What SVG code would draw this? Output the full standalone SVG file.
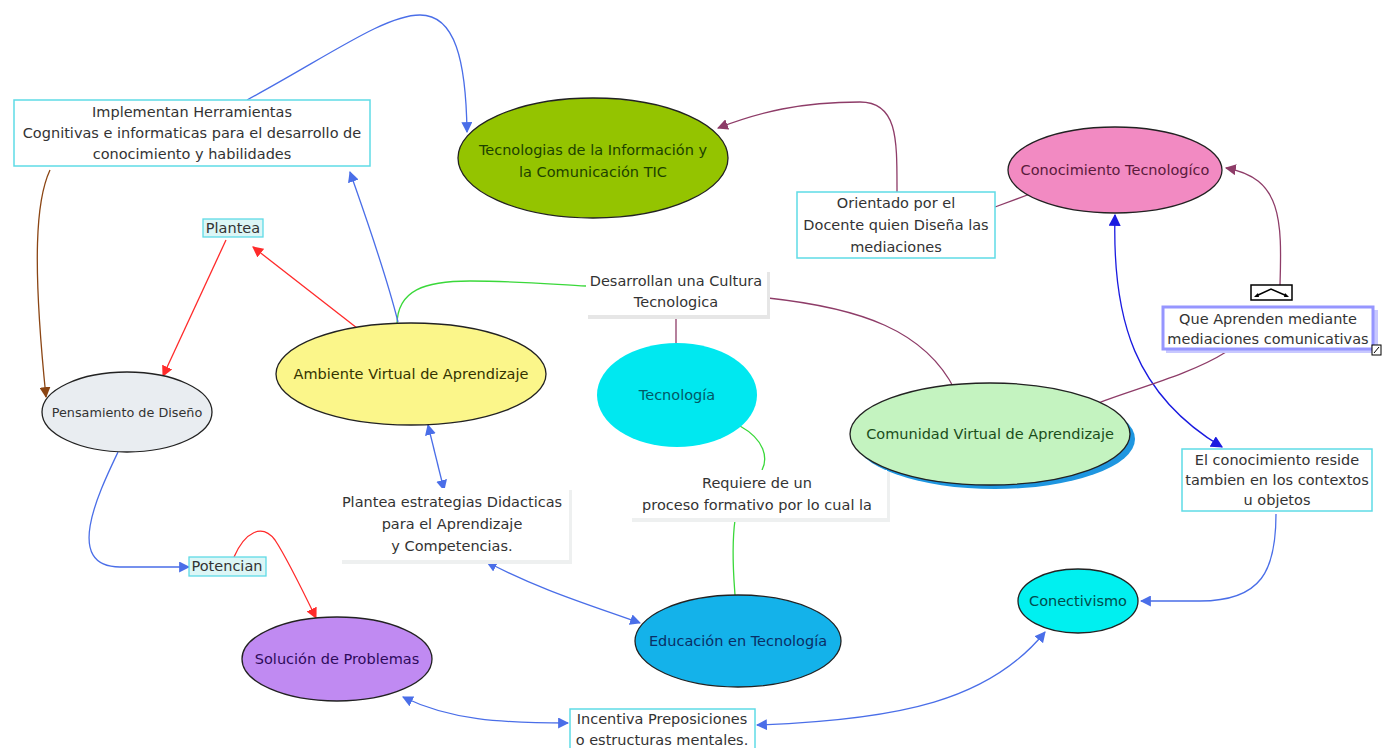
<svg xmlns="http://www.w3.org/2000/svg" width="1382" height="748" viewBox="0 0 1382 748">
<defs>
<style>
text{font-family:"DejaVu Sans","Liberation Sans",sans-serif;font-size:14.5px;text-anchor:middle;fill:#333}
.box{fill:#fff;stroke:#5fdbe6;stroke-width:1.5}
.lbl{fill:#fff}
.c{fill:none;stroke-width:1.3}
.bl{stroke:#4a6ee8}
.db{stroke:#1a1ae0}
.pu{stroke:#8e3c68}
.rd{stroke:#ff2a2a}
.gr{stroke:#3ad83a}
.br{stroke:#8b4513}
.el{stroke:#222;stroke-width:1.3}
</style>
<marker id="aBl" viewBox="0 0 10 10" refX="9" refY="5" markerWidth="11" markerHeight="11" markerUnits="userSpaceOnUse" orient="auto-start-reverse"><path d="M0,0L10,5L0,10z" fill="#4a6ee8"/></marker>
<marker id="aDb" viewBox="0 0 10 10" refX="9" refY="5" markerWidth="12" markerHeight="12" markerUnits="userSpaceOnUse" orient="auto-start-reverse"><path d="M0,0L10,5L0,10z" fill="#1a1ae0"/></marker>
<marker id="aPu" viewBox="0 0 10 10" refX="9" refY="5" markerWidth="11" markerHeight="11" markerUnits="userSpaceOnUse" orient="auto"><path d="M0,0L10,5L0,10z" fill="#8e3c68"/></marker>
<marker id="aRd" viewBox="0 0 10 10" refX="9" refY="5" markerWidth="11" markerHeight="11" markerUnits="userSpaceOnUse" orient="auto"><path d="M0,0L10,5L0,10z" fill="#ff2a2a"/></marker>
<marker id="aBr" viewBox="0 0 10 10" refX="9" refY="5" markerWidth="11" markerHeight="11" markerUnits="userSpaceOnUse" orient="auto"><path d="M0,0L10,5L0,10z" fill="#8b4513"/></marker>
</defs>
<rect width="1382" height="748" fill="#fff"/>

<g id="connectors">
<path class="c bl" d="M247,100 C330,55 385,15 420,15 C455,15 466,60 467,132" marker-end="url(#aBl)"/>
<path class="c pu" d="M897,192 C897,140 898,102 860,102 C800,102 760,112 718,128" marker-end="url(#aPu)"/>
<path class="c pu" d="M995,207 L1030,194"/>
<path class="c pu" d="M1280,285 C1282,220 1282,178 1226,168" marker-end="url(#aPu)"/>
<path class="c db" d="M1115,215 C1112,320 1135,395 1222,447" marker-start="url(#aDb)" marker-end="url(#aDb)"/>
<path class="c pu" d="M1226,352 C1190,375 1130,390 1093,405"/>
<path class="c pu" d="M768,298 C860,308 925,330 955,390"/>
<path class="c pu" d="M676,318 L676,343"/>
<path class="c gr" d="M397,325 C397,290 425,281 470,281 C520,281 560,285 586,286"/>
<path class="c bl" d="M398,322 C385,270 365,215 350,172" marker-end="url(#aBl)"/>
<path class="c rd" d="M357,328 L253,247" marker-end="url(#aRd)"/>
<path class="c rd" d="M226,240 L163,376" marker-end="url(#aRd)"/>
<path class="c br" d="M50,170 C36,200 32,260 46,397" marker-end="url(#aBr)"/>
<path class="c bl" d="M118,452 C100,490 62,567 120,567 L189,567" marker-end="url(#aBl)"/>
<path class="c rd" d="M234,557 C245,532 262,523 275,540 C285,555 300,585 316,618" marker-end="url(#aRd)"/>
<path class="c bl" d="M428,425 L444,490" marker-start="url(#aBl)" marker-end="url(#aBl)"/>
<path class="c bl" d="M487,562 C540,590 590,605 640,623" marker-start="url(#aBl)" marker-end="url(#aBl)"/>
<path class="c gr" d="M740,426 C765,440 768,458 762,470"/>
<path class="c gr" d="M735,520 C731,550 734,580 735,595"/>
<path class="c bl" d="M403,697 C450,720 500,723 568,723" marker-start="url(#aBl)" marker-end="url(#aBl)"/>
<path class="c bl" d="M757,725 C900,720 990,700 1045,632" marker-start="url(#aBl)" marker-end="url(#aBl)"/>
<path class="c bl" d="M1276,514 C1276,570 1262,601 1200,601 L1141,601" marker-end="url(#aBl)"/>
</g>

<g id="n-implementan">
<rect class="box" x="14" y="100" width="356" height="66"/>
<text x="192" y="117">Implementan Herramientas</text>
<text x="192" y="138">Cognitivas e informaticas para el desarrollo de</text>
<text x="192" y="159">conocimiento y habilidades</text>
</g>

<g id="n-tic">
<ellipse cx="593" cy="158" rx="135" ry="60" fill="#94c400" class="el"/>
<text x="593" y="155" style="fill:#1d4200">Tecnologias de la Información y</text>
<text x="593" y="177" style="fill:#1d4200">la Comunicación TIC</text>
</g>

<g id="n-orientado">
<rect class="box" x="797" y="192" width="198" height="66"/>
<text x="896" y="208">Orientado por el</text>
<text x="896" y="230">Docente quien Diseña las</text>
<text x="896" y="252">mediaciones</text>
</g>

<g id="n-conocimiento">
<ellipse cx="1115" cy="170" rx="107" ry="43" fill="#f28ac2" class="el"/>
<text x="1115" y="175" style="fill:#5a1a3c">Conocimiento Tecnologíco</text>
</g>

<g id="n-queaprenden">
<rect x="1251" y="285" width="41" height="15" fill="#fff" stroke="#000" stroke-width="1.5"/>
<path d="M1256,296 L1271,289 L1287,296" fill="none" stroke="#000" stroke-width="1.5"/>
<path d="M1254,297 l4,-4 l1,4z M1289,297 l-4,-4 l-1,4z" fill="#000"/>
<rect x="1166" y="310" width="212" height="43" fill="#c8c8ff"/>
<rect x="1163" y="307" width="210" height="42" fill="#fff" stroke="#9696ff" stroke-width="3"/>
<text x="1268" y="324">Que Aprenden mediante</text>
<text x="1268" y="344">mediaciones comunicativas</text>
<rect x="1372" y="345" width="9" height="10" fill="#fff" stroke="#000" stroke-width="1"/>
<path d="M1374,353 L1379,347" stroke="#000" stroke-width="1"/>
</g>

<g id="n-plantea">
<rect x="203" y="219" width="60" height="18" fill="#dcf6f6" stroke="#5fdbe6" stroke-width="1.3"/>
<text x="233" y="233">Plantea</text>
</g>

<g id="n-pensamiento">
<ellipse cx="127" cy="412" rx="85" ry="40" fill="#e9edf1" class="el"/>
<text x="127" y="417" style="font-size:12.8px">Pensamiento de Diseño</text>
</g>

<g id="n-ambiente">
<ellipse cx="411" cy="374" rx="135" ry="51" fill="#fbf68a" class="el"/>
<text x="411" y="379" style="fill:#333300">Ambiente Virtual de Aprendizaje</text>
</g>

<g id="n-desarrollan">
<rect x="588" y="272" width="182" height="47" fill="#e6e6e6"/>
<rect class="lbl" x="586" y="270" width="181" height="45"/>
<text x="676" y="286">Desarrollan una Cultura</text>
<text x="676" y="307">Tecnologica</text>
</g>

<g id="n-tecnologia">
<ellipse cx="677" cy="395" rx="80" ry="52" fill="#00e8f0"/>
<text x="677" y="400" style="fill:#005a66">Tecnología</text>
</g>

<g id="n-comunidad">
<ellipse cx="995" cy="439" rx="140" ry="50" fill="#1e96e0"/>
<ellipse cx="990" cy="434" rx="140" ry="51" fill="#c4f3c0" class="el"/>
<text x="990" y="439" style="fill:#1a4d1a">Comunidad Virtual de Aprendizaje</text>
</g>

<g id="n-requiere">
<rect x="632" y="472" width="258" height="50" fill="#eef0f0"/>
<rect class="lbl" x="630" y="470" width="257" height="48"/>
<text x="757" y="488">Requiere de un</text>
<text x="757" y="510">proceso formativo  por lo cual la</text>
</g>

<g id="n-estrategias">
<rect x="342" y="490" width="230" height="74" fill="#eef0f0"/>
<rect class="lbl" x="340" y="488" width="229" height="72"/>
<text x="452" y="507">Plantea estrategias Didacticas</text>
<text x="452" y="529">para el Aprendizaje</text>
<text x="452" y="551">y Competencias.</text>
</g>

<g id="n-reside">
<rect class="box" x="1182" y="449" width="190" height="62"/>
<text x="1277" y="465">El conocimiento reside</text>
<text x="1277" y="485">tambien en los contextos</text>
<text x="1277" y="505">u objetos</text>
</g>

<g id="n-conectivismo">
<ellipse cx="1078" cy="601" rx="60" ry="32" fill="#00f0f0" class="el"/>
<text x="1078" y="606" style="fill:#004d4d">Conectivismo</text>
</g>

<g id="n-potencian">
<rect x="189" y="557" width="77" height="19" fill="#dcf6f6" stroke="#5fdbe6" stroke-width="1.3"/>
<text x="227" y="571">Potencian</text>
</g>

<g id="n-solucion">
<ellipse cx="337" cy="659" rx="95" ry="42" fill="#c08af2" class="el"/>
<text x="337" y="664" style="fill:#2e0a5c">Solución de Problemas</text>
</g>

<g id="n-educacion">
<ellipse cx="738" cy="641" rx="103" ry="46" fill="#14b2ea" class="el"/>
<text x="738" y="646" style="fill:#0a2f66">Educación en Tecnología</text>
</g>

<g id="n-incentiva">
<rect class="box" x="570" y="709" width="185" height="42"/>
<text x="662" y="724">Incentiva Preposiciones</text>
<text x="662" y="745">o estructuras mentales.</text>
</g>
</svg>
